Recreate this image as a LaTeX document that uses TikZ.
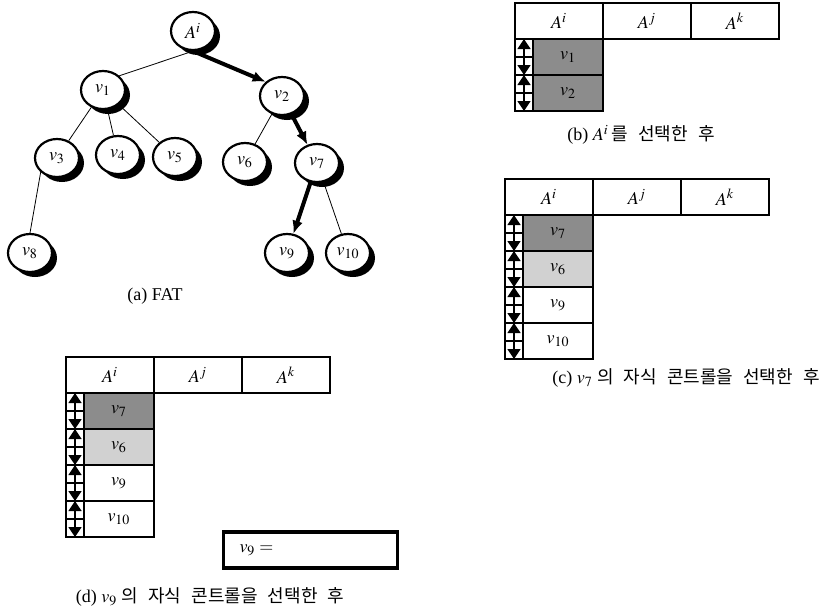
\documentclass[tikz,border=0pt]{standalone}
\usepackage{mathptmx}
\usepackage{fontspec}
\setmainfont{Liberation Serif}
\newfontfamily\kr{Noto Sans CJK KR}[WordSpace=2.5]
\usetikzlibrary{positioning,shapes.geometric,shadows,arrows.meta,backgrounds}

\begin{document}
\begin{tikzpicture}[x=0.5pt,y=-0.5pt,line width=1.1pt,>={Latex[length=6.5pt,width=5.5pt]},
	fatnode/.style={ellipse,draw,fill=white,minimum width=22pt,minimum height=19pt,inner sep=0pt,font=\small,
		drop shadow={shadow xshift=2.5pt,shadow yshift=-2.5pt,fill=black,opacity=1}},
	pick/.style={->,line width=2pt},
	hcell/.style={draw,minimum width=44pt,minimum height=18pt,inner sep=0pt,outer sep=0pt,font=\small\boldmath},
	acell/.style={draw,minimum width=9pt,minimum height=18pt,inner sep=0pt,outer sep=0pt},
	vcell/.style={draw,minimum width=35pt,minimum height=18pt,inner sep=0pt,outer sep=0pt,font=\small\boldmath},
	darkcell/.style={fill=black!45},
	lightcell/.style={fill=black!18},
	plaincell/.style={fill=white},
	updown/.style={{Triangle[width=6.5pt,length=5pt]}-{Triangle[width=6.5pt,length=5pt]},line width=0.7pt},
	selbox/.style={draw,line width=1.7pt,text width=71pt,inner xsep=8pt,minimum height=18pt,align=left,font=\small},
	caption/.style={font=\fontsize{9}{10}\selectfont}]

	\useasboundingbox (0,0) rectangle (824,607);

	% (a) the FAT tree
	\node[fatnode] (Ai) at (193,31) {$A^i$};
	\node[fatnode] (v1) at (103,90) {$v_1$};
	\node[fatnode] (v2) at (282,96) {$v_2$};
	\node[fatnode] (v3) at (57,158) {$v_3$};
	\node[fatnode] (v4) at (118,155) {$v_4$};
	\node[fatnode] (v5) at (175,157) {$v_5$};
	\node[fatnode] (v6) at (245,162) {$v_6$};
	\node[fatnode] (v7) at (317,163) {$v_7$};
	\node[fatnode] (v8) at (30,253) {$v_8$};
	\node[fatnode] (v9) at (287,253) {$v_9$};
	\node[fatnode] (v10) at (348,253) {$v_{10}$};

	\begin{scope}[on background layer]
		\draw (Ai.south) -- (v1.north east);
		\draw[pick] (Ai.south) -- (v2.north west);
		\draw (v1) -- (v3);
		\draw (v1) -- (v4);
		\draw (v1) -- (v5);
		\draw (v2) -- (v6);
		\draw[pick] (v2) -- (v7);
		\draw (v3.south west) -- (v8.north);
		\draw[pick] (v7) -- (v9);
		\draw (v7) -- (v10);
	\end{scope}
	\node[caption] (capa) at (155,296) {(a) FAT};

	% (b) after choosing A^i
	\node[hcell,anchor=north west] (ba0) at (515,3) {$A^i$};
	\node[hcell,right=0pt of ba0] (bh2) {$A^j$};
	\node[hcell,right=0pt of bh2] (bh3) {$A^k$};
	\foreach \lab/\tone [count=\r] in {v_1/darkcell,v_2/darkcell} {
		\pgfmathtruncatemacro{\p}{\r-1}
		\node[acell,below=0pt of ba\p.south west,anchor=north west] (ba\r) {};
		\node[vcell,\tone,right=0pt of ba\r] (bv\r) {$\lab$};
		\draw[updown] (ba\r.north) -- (ba\r.south);
		\draw (ba\r.west) -- (ba\r.east);
	}
	\node[caption] (capb) at (641,135) {(b) $A^i$\,{\kr 를 선택한 후}};

	% (c) after choosing the child control of v_7
	\node[hcell,anchor=north west] (ca0) at (505,179) {$A^i$};
	\node[hcell,right=0pt of ca0] (ch2) {$A^j$};
	\node[hcell,right=0pt of ch2] (ch3) {$A^k$};
	\foreach \lab/\tone [count=\r] in {v_7/darkcell,v_6/lightcell,v_9/plaincell,v_{10}/plaincell} {
		\pgfmathtruncatemacro{\p}{\r-1}
		\node[acell,below=0pt of ca\p.south west,anchor=north west] (ca\r) {};
		\node[vcell,\tone,right=0pt of ca\r] (cv\r) {$\lab$};
		\draw[updown] (ca\r.north) -- (ca\r.south);
		\draw (ca\r.west) -- (ca\r.east);
	}
	\node[caption] (capc) at (686,378) {(c) $v_7$ {\kr 의 자식 콘트롤을 선택한 후}};

	% (d) after choosing the child control of v_9
	\node[hcell,anchor=north west] (da0) at (66,357) {$A^i$};
	\node[hcell,right=0pt of da0] (dh2) {$A^j$};
	\node[hcell,right=0pt of dh2] (dh3) {$A^k$};
	\foreach \lab/\tone [count=\r] in {v_7/darkcell,v_6/lightcell,v_9/plaincell,v_{10}/plaincell} {
		\pgfmathtruncatemacro{\p}{\r-1}
		\node[acell,below=0pt of da\p.south west,anchor=north west] (da\r) {};
		\node[vcell,\tone,right=0pt of da\r] (dv\r) {$\lab$};
		\draw[updown] (da\r.north) -- (da\r.south);
		\draw (da\r.west) -- (da\r.east);
	}
	\node[selbox] (sel) at (310.5,550) {$v_9 =$};
	\node[caption] (capd) at (210,597) {(d) $v_9$ {\kr 의 자식 콘트롤을 선택한 후}};

\end{tikzpicture}
\end{document}
